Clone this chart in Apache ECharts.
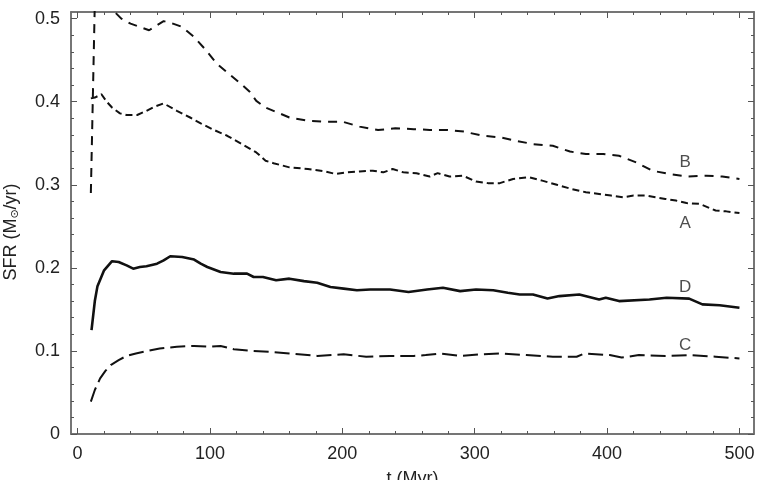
<!DOCTYPE html>
<html>
<head>
<meta charset="utf-8">
<script src="https://cdn.jsdelivr.net/npm/echarts@6/dist/echarts.min.js"></script>
<style>
  html, body { margin: 0; padding: 0; background: #fff; }
  #chart { width: 762px; height: 480px; }
</style>
</head>
<body>
<div id="chart"></div>
<script>
// data: [t (Myr), SFR (Msun/yr)]
const seriesA = [[10,0.404],[13,0.405],[18,0.409],[22,0.400],[26,0.393],[32,0.386],[37,0.384],[45,0.384],[52,0.389],[58,0.394],[65,0.398],[75,0.389],[85,0.381],[93,0.374],[103,0.366],[113,0.359],[124,0.349],[135,0.339],[142,0.329],[148,0.326],[160,0.321],[174,0.319],[187,0.316],[195,0.313],[203,0.315],[213,0.316],[223,0.317],[231,0.315],[238,0.319],[246,0.315],[256,0.314],[266,0.310],[272,0.314],[281,0.310],[291,0.311],[301,0.304],[310,0.302],[319,0.302],[329,0.307],[341,0.309],[351,0.305],[362,0.300],[373,0.295],[384,0.291],[394,0.289],[403,0.287],[412,0.285],[420,0.287],[429,0.287],[444,0.283],[452,0.281],[460,0.278],[470,0.277],[482,0.269],[490,0.268],[500,0.266]]
const seriesB = [[10,0.29],[13,0.52],[17,0.56],[22,0.54],[28,0.508],[33,0.500],[40,0.494],[47,0.490],[54,0.486],[60,0.492],[65,0.497],[72,0.494],[79,0.490],[88,0.478],[97,0.462],[105,0.446],[114,0.434],[123,0.422],[130,0.412],[135,0.401],[142,0.393],[148,0.389],[160,0.381],[174,0.377],[187,0.376],[200,0.376],[213,0.370],[227,0.366],[240,0.368],[254,0.367],[266,0.366],[279,0.366],[292,0.364],[306,0.359],[320,0.357],[331,0.353],[344,0.349],[359,0.347],[372,0.340],[384,0.337],[397,0.337],[409,0.335],[422,0.327],[434,0.317],[447,0.313],[461,0.310],[475,0.311],[487,0.310],[500,0.307]]
const seriesC = [[10,0.039],[13,0.053],[17,0.067],[21,0.076],[25,0.083],[31,0.089],[37,0.094],[44,0.097],[50,0.099],[62,0.103],[75,0.105],[88,0.106],[100,0.105],[108,0.106],[118,0.102],[133,0.100],[145,0.099],[160,0.097],[181,0.094],[201,0.096],[218,0.093],[236,0.094],[254,0.094],[263,0.095],[274,0.097],[289,0.094],[306,0.096],[319,0.097],[339,0.095],[359,0.093],[377,0.093],[383,0.097],[402,0.095],[411,0.092],[424,0.095],[444,0.094],[462,0.095],[482,0.093],[500,0.091]]
const seriesD = [[10.5,0.125],[13,0.16],[15,0.178],[20,0.197],[26,0.208],[31,0.207],[37,0.203],[42,0.199],[47,0.201],[52,0.202],[60,0.205],[65,0.209],[70,0.214],[79,0.213],[88,0.210],[93,0.205],[98,0.201],[108,0.195],[118,0.193],[128,0.193],[133,0.189],[140,0.189],[150,0.185],[160,0.187],[171,0.184],[181,0.182],[191,0.177],[201,0.175],[211,0.173],[221,0.174],[236,0.174],[250,0.171],[264,0.174],[276,0.176],[289,0.172],[301,0.174],[314,0.173],[325,0.170],[334,0.168],[344,0.168],[355,0.163],[364,0.166],[379,0.168],[394,0.162],[399,0.164],[409,0.160],[432,0.162],[445,0.164],[462,0.163],[472,0.156],[485,0.155],[500,0.152]]

// curve labels
const labelNames = ['B', 'A', 'D', 'C']
const labelT = [459, 459, 459, 459]
const labelY = [0.327, 0.254, 0.176, 0.107]

// ticks
const xTicks = [0, 100, 200, 300, 400, 500]
const yTicks = [0, 0.1, 0.2, 0.3, 0.4, 0.5]
const xMinor = []
for (let v = 0; v <= 500; v += 20) xMinor.push(v)
const yMinor = []
for (let i = 0; i <= 25; i++) yMinor.push(+(i * 0.02).toFixed(2))

const X_MIN = -5, X_MAX = 511, Y_MIN = 0, Y_MAX = 0.508
const frame = { show: true, onZero: false, lineStyle: { color: '#6e6e6e', width: 1.5 } }
const font = 'Liberation Sans, Arial, sans-serif'

function xAxisDef (pos, ticks, len, labels) {
  return {
    type: 'value', position: pos, min: X_MIN, max: X_MAX,
    splitLine: { show: false },
    axisLine: frame,
    axisTick: { show: true, inside: true, length: len, customValues: ticks, lineStyle: { color: '#555', width: 1 } },
    axisLabel: labels
      ? { show: true, customValues: ticks, color: '#222', fontSize: 18, fontFamily: font, margin: 11 }
      : { show: false }
  }
}
function yAxisDef (pos, ticks, len, labels) {
  return {
    type: 'value', position: pos, min: Y_MIN, max: Y_MAX,
    splitLine: { show: false },
    axisLine: frame,
    axisTick: { show: true, inside: true, length: len, customValues: ticks, lineStyle: { color: '#555', width: 1 } },
    axisLabel: labels
      ? { show: true, customValues: ticks, color: '#222', fontSize: 18, fontFamily: font, margin: 11, formatter: v => String(v) }
      : { show: false }
  }
}

const xAxes = [
  xAxisDef('bottom', xTicks, 6, true),
  xAxisDef('bottom', xMinor, 3, false),
  xAxisDef('top', xTicks, 6, false),
  xAxisDef('top', xMinor, 3, false)
]
xAxes[0].name = 't (Myr)'
xAxes[0].nameLocation = 'middle'
xAxes[0].nameGap = 36
xAxes[0].nameTextStyle = { color: '#222', fontSize: 18, fontFamily: font }

const yAxes = [
  yAxisDef('left', yTicks, 6, true),
  yAxisDef('left', yMinor, 3, false),
  yAxisDef('right', yTicks, 6, false),
  yAxisDef('right', yMinor, 3, false)
]
yAxes[0].name = 'SFR (M{sub|⊙}/yr)'
yAxes[0].nameLocation = 'middle'
yAxes[0].nameGap = 50
yAxes[0].nameTextStyle = {
  color: '#222', fontSize: 18, fontFamily: font, padding: [0, 18, 0, 0],
  rich: { sub: { fontSize: 11, fontFamily: 'DejaVu Sans', color: '#222', verticalAlign: 'bottom', padding: [8, 0, 0, 0] } }
}

const lineBase = { type: 'line', showSymbol: false, symbol: 'none', clip: true, smooth: false, animation: false, xAxisIndex: 0, yAxisIndex: 0 }

const myChart = echarts.init(document.getElementById('chart'))
myChart.setOption({
  animation: false,
  grid: { left: 71, right: 8, top: 12, bottom: 46, containLabel: false, outerBoundsMode: 'none' },
  xAxis: xAxes,
  yAxis: yAxes,
  series: [
    Object.assign({}, lineBase, { name: 'A', data: seriesA, lineStyle: { color: '#111', width: 2, type: [7, 4] } }),
    Object.assign({}, lineBase, { name: 'B', data: seriesB, lineStyle: { color: '#111', width: 2, type: [9, 7] } }),
    Object.assign({}, lineBase, { name: 'C', data: seriesC, lineStyle: { color: '#111', width: 2, type: [15, 6] } }),
    Object.assign({}, lineBase, { name: 'D', data: seriesD, lineStyle: { color: '#111', width: 2.6 } }),
    {
      type: 'scatter', symbolSize: 0, animation: false, silent: true,
      data: labelNames.map((n, i) => ({ value: [labelT[i], labelY[i]], name: n })),
      label: { show: true, position: 'inside', formatter: p => p.name, color: '#222', fontSize: 17, fontFamily: font }
    }
  ]
})
</script>
</body>
</html>
